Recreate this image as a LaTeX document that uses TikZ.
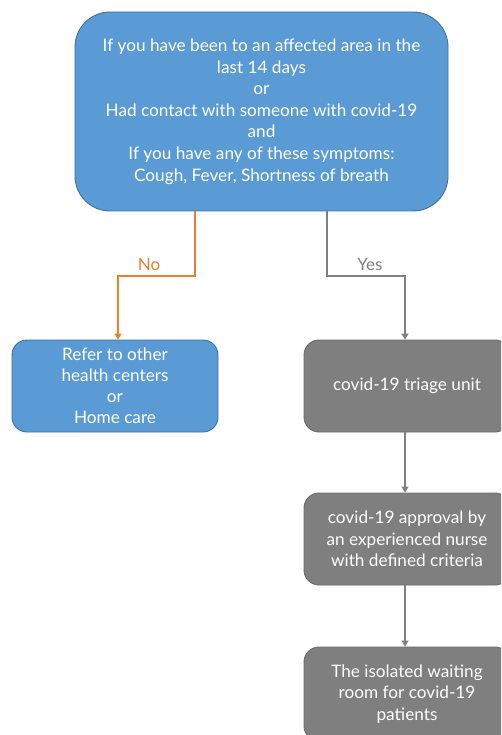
\documentclass[tikz,border=0pt]{standalone}
\usepackage{fontspec}
\setmainfont{Lato}
\usetikzlibrary{arrows.meta}
\definecolor{boxblue}{HTML}{5B9BD5}
\definecolor{blueedge}{HTML}{41719C}
\definecolor{boxgray}{HTML}{7F7F7F}
\definecolor{grayedge}{HTML}{6B6B6B}
\definecolor{linkorange}{HTML}{ED7D31}
\definecolor{linkgray}{HTML}{808080}
\tikzset{
  bluebox/.style={draw=blueedge, fill=boxblue, line width=0.9pt, text=white, align=center, inner sep=0pt},
  graybox/.style={draw=grayedge, fill=boxgray, line width=0.9pt, text=white, align=center, inner sep=0pt},
  orangelink/.style={draw=linkorange, line width=1.6pt, -{Triangle[width=7pt,length=6pt]}},
  graylink/.style={draw=linkgray, line width=1.6pt, -{Triangle[width=7pt,length=6pt]}},
  lbl/.style={font=\fontsize{17}{18}\selectfont}
}
\begin{document}
\begin{tikzpicture}[x=1pt,y=-1pt]
\clip (0,0) rectangle (501,735);
\fill[white] (0,0) rectangle (501,735);
\node[bluebox, rounded corners=35pt, minimum width=373pt, minimum height=199pt, font=\fontsize{17.2}{21.6}\selectfont] (q) at (261.5,111.5)
 {If you have been to an affected area in the\\last 14 days\\or\\Had contact with someone with covid-19\\and\\If you have any of these symptoms:\\Cough, Fever, Shortness of breath};
\node[bluebox, rounded corners=15pt, minimum width=206pt, minimum height=92pt, font=\fontsize{17.2}{21}\selectfont] (refer) at (115,386)
 {Refer to other\\health centers\\or\\Home care};
\node[graybox, rounded corners=15pt, minimum width=206pt, minimum height=92pt, font=\fontsize{17.2}{21}\selectfont] (triage) at (407,386)
 {covid-19 triage unit};
\node[graybox, rounded corners=15pt, minimum width=206pt, minimum height=92pt, font=\fontsize{17.2}{21.5}\selectfont] (approve) at (407,539)
 {covid-19 approval by\\an experienced nurse\\with defined criteria};
\node[graybox, rounded corners=15pt, minimum width=206pt, minimum height=94pt, font=\fontsize{17.2}{21.5}\selectfont] (room) at (407,694)
 {The isolated waiting\\room for covid-19\\patients};
\coordinate (nA) at (195,276);
\coordinate (nB) at (118,276);
\coordinate (yA) at (327,276);
\coordinate (yB) at (405,276);
\draw[orangelink] (q.south -| nA) -- (nA) -- (nB) -- (refer.north -| nB);
\draw[graylink] (q.south -| yA) -- (yA) -- (yB) -- (triage.north -| yB);
\node[lbl, text=linkorange] (nolbl) at (149,264) {No};
\node[lbl, text=linkgray] (yeslbl) at (370,264) {Yes};
\draw[graylink] (triage.south -| yB) -- (approve.north -| yB);
\draw[graylink] (approve.south -| yB) -- (room.north -| yB);
\end{tikzpicture}
\end{document}
